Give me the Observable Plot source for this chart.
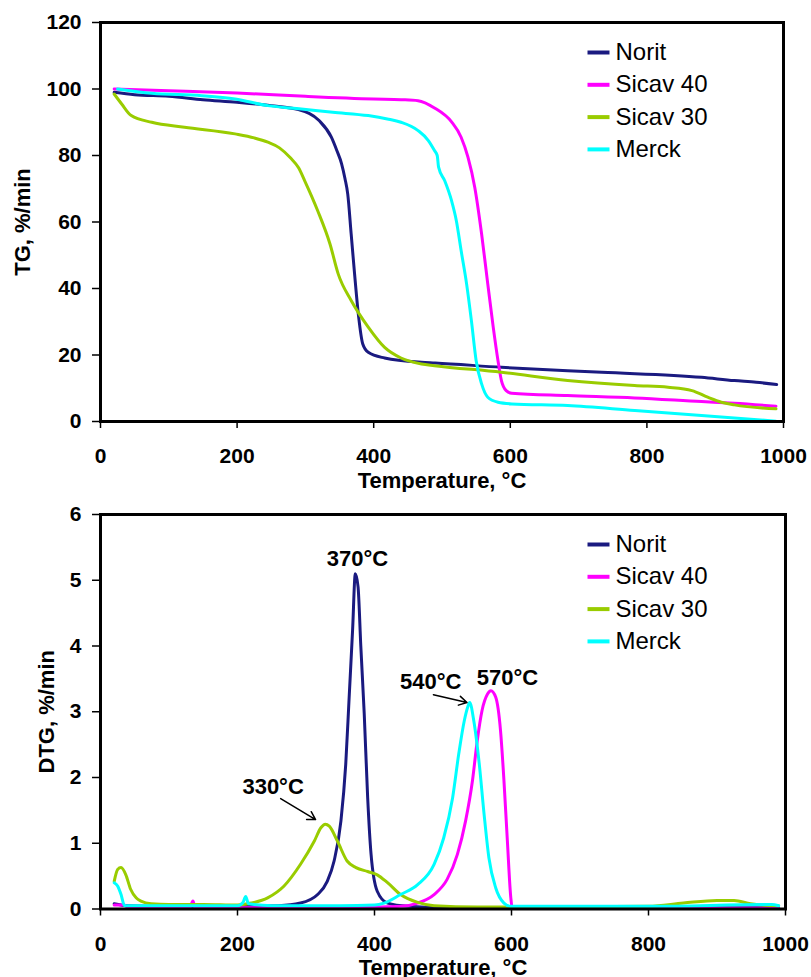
<!DOCTYPE html>
<html><head><meta charset="utf-8">
<script src="https://cdn.jsdelivr.net/npm/d3@7"></script>
<script src="https://cdn.jsdelivr.net/npm/@observablehq/plot@0.6"></script>
<style>
body{margin:0;background:#fff}
#chart svg{display:block}
#chart svg [aria-label$="tick label"] text{font-weight:bold}
</style>
</head><body><div id="chart"></div>
<script>
const FONT = "'Liberation Sans', Arial, sans-serif";
const seriesNames = ["Norit", "Sicav 40", "Sicav 30", "Merck"];
const seriesColors = ["#1a1a80", "#ff00ff", "#99cc00", "#00ffff"];
const xTicks = [0, 200, 400, 600, 800, 1000];
const tgTicks = [0, 20, 40, 60, 80, 100, 120];
const dtgTicks = [0, 1, 2, 3, 4, 5, 6];
const xTitle = "Temperature, °C";
const tgTitle = "TG, %/min";
const dtgTitle = "DTG, %/min";

// ---- TG (top) ----
const noritTG_T = [20, 50, 100, 150, 200, 250, 290, 320, 338, 346, 353, 358, 362, 367, 372, 378, 384, 392, 416, 470, 490, 587, 734, 880, 928, 960, 990];
const noritTG   = [99, 98.3, 97.8, 96.8, 96, 95, 93.8, 90.5, 85.5, 81.5, 77.5, 73, 68.4, 56.4, 44.4, 31.4, 23.3, 20.8, 19.1, 17.8, 17.6, 16.3, 14.8, 13.3, 12.3, 11.8, 11.1];
const sicav40TG_T = [20, 100, 200, 300, 400, 440, 465, 489, 514, 528, 538, 548, 558, 567, 575, 582, 587, 594, 602, 684, 782, 880, 928, 989];
const sicav40TG   = [100, 99.5, 98.8, 97.8, 97, 96.8, 96.5, 94.3, 90.1, 85.5, 79.5, 70.4, 56.4, 41.4, 28.4, 18.3, 12.3, 9.3, 8.5, 7.8, 7.1, 6, 5.5, 4.6];
const sicav30TG_T = [20, 31, 45, 75, 123, 197, 225, 245, 262, 278, 290, 299, 318, 336, 348, 367, 392, 416, 440, 470, 489, 587, 684, 782, 831, 866, 889, 909, 928, 989];
const sicav30TG   = [98.5, 95.5, 92, 90, 88.5, 86.5, 85.3, 84, 82.3, 79.3, 76.3, 72.4, 63.4, 53.4, 44.4, 36.4, 28.4, 22.3, 19.1, 17.3, 16.8, 14.8, 12.3, 10.8, 10.3, 9.3, 7.3, 5.8, 5, 3.8];
const merckTG_T = [25, 75, 148, 197, 245, 294, 340, 392, 420, 440, 465, 480, 489, 493, 495, 504, 514, 521, 528, 536, 543, 550, 558, 567, 582, 602, 684, 782, 880, 989];
const merckTG   = [100, 98.7, 98, 97, 95, 94, 93, 92, 91, 90, 87.5, 84.5, 81.5, 80, 76.5, 72.4, 66.4, 60.4, 51.4, 41.4, 30.4, 18.3, 11.3, 7.3, 5.8, 5.3, 4.8, 3.3, 1.8, 0.1];

// ---- DTG (bottom) ----
const noritDTG_T = [20, 40, 100, 200, 260, 292, 317, 331, 341, 351, 358, 363, 368, 372, 376, 380, 385, 390, 395, 404, 419, 450, 500, 600, 990];
const noritDTG   = [0.08, 0.05, 0.04, 0.04, 0.05, 0.09, 0.22, 0.42, 0.73, 1.34, 2.2, 3.22, 4.24, 5.1, 4.9, 4.0, 2.97, 1.7, 0.83, 0.27, 0.09, 0.04, 0.02, 0.02, 0.02];
const sicav40DTG_T = [20, 35, 40, 130, 135, 138, 200, 300, 400, 438, 463, 487, 506, 521, 533, 543, 550, 557, 565, 570, 577, 584, 589, 594, 599, 601, 990];
const sicav40DTG   = [0.06, 0.06, 0.02, 0.02, 0.12, 0.02, 0.02, 0.02, 0.03, 0.04, 0.09, 0.22, 0.45, 0.83, 1.34, 1.95, 2.56, 3.02, 3.27, 3.32, 3.22, 2.71, 1.95, 1.03, 0.17, 0.02, 0.01];
const sicav30DTG_T = [20, 25, 30, 37, 44, 52, 59, 74, 100, 150, 200, 220, 244, 268, 292, 312, 322, 328, 334, 346, 360, 373, 390, 404, 419, 438, 463, 487, 550, 600, 800, 851, 900, 925, 949, 990];
const sicav30DTG   = [0.42, 0.6, 0.63, 0.52, 0.3, 0.17, 0.12, 0.08, 0.07, 0.07, 0.06, 0.09, 0.17, 0.35, 0.68, 1.03, 1.24, 1.29, 1.26, 1.03, 0.73, 0.63, 0.57, 0.52, 0.4, 0.22, 0.1, 0.05, 0.03, 0.03, 0.04, 0.09, 0.13, 0.13, 0.08, 0.05];
const merckDTG_T = [20, 25, 30, 35, 100, 200, 208, 212, 216, 250, 350, 400, 414, 438, 463, 487, 501, 514, 523, 531, 536, 539, 545, 553, 560, 567, 577, 589, 599, 800, 980, 990];
const merckDTG   = [0.4, 0.35, 0.22, 0.05, 0.05, 0.05, 0.1, 0.19, 0.08, 0.05, 0.05, 0.06, 0.09, 0.22, 0.37, 0.68, 1.08, 1.69, 2.36, 2.86, 3.07, 3.14, 2.86, 2.2, 1.44, 0.78, 0.32, 0.09, 0.04, 0.04, 0.07, 0.05];

// ---- annotations (bottom) ----
const peakLabels = ["370°C", "330°C", "540°C", "570°C"];
const peakLabelT = [375, 252, 482, 594];
const peakLabelV = [5.33, 1.85, 3.45, 3.52];
const arrowFromT = [263, 486];
const arrowFromV = [1.68, 3.26];
const arrowToT = [314, 535];
const arrowToV = [1.36, 3.14];

function rowsOf(list) {
  const rows = [];
  list.forEach(([name, T, V]) => T.forEach((t, i) => rows.push({series: name, T: t, v: V[i]})));
  return rows;
}
const tgRows = rowsOf([
  ["Norit", noritTG_T, noritTG], ["Sicav 40", sicav40TG_T, sicav40TG],
  ["Sicav 30", sicav30TG_T, sicav30TG], ["Merck", merckTG_T, merckTG]]);
const dtgRows = rowsOf([
  ["Norit", noritDTG_T, noritDTG], ["Sicav 40", sicav40DTG_T, sicav40DTG],
  ["Sicav 30", sicav30DTG_T, sicav30DTG], ["Merck", merckDTG_T, merckDTG]]);
const labelRows = peakLabels.map((t, i) => ({text: t, T: peakLabelT[i], v: peakLabelV[i]}));
const arrowRows = arrowFromT.map((t, i) => ({x1: t, y1: arrowFromV[i], x2: arrowToT[i], y2: arrowToV[i]}));

const dashSymbol = {draw(ctx, size) { const w = Math.sqrt(size / Math.PI); ctx.moveTo(-w, 0); ctx.lineTo(w, 0); }};

function legendMarks() {
  return seriesNames.flatMap((name, i) => [
    Plot.dot([name], {frameAnchor: "top-left", dx: 498, dy: 30 + 32.3 * i, symbol: dashSymbol, r: 11, fill: "none", stroke: seriesColors[i], strokeWidth: 4}),
    Plot.text([name], {frameAnchor: "top-left", dx: 515, dy: 30 + 32.3 * i, text: d => d, textAnchor: "start", lineAnchor: "middle", fontSize: 24, fill: "black"})
  ]);
}

function panel({rows, yDomain, yTicks, yTitle, yTitleDx, height, marginBottom, marginRight, extra}) {
  return Plot.plot({
    width: 811, height, marginLeft: 100, marginRight, marginTop: 22, marginBottom,
    style: {fontFamily: FONT, background: "white", color: "black"},
    x: {domain: [0, 1000]},
    y: {domain: yDomain},
    color: {domain: seriesNames, range: seriesColors},
    marks: [
      Plot.axisX({ticks: xTicks, tickFormat: "d", tickSize: 7, tickPadding: 20, fontSize: 21, fontWeight: "bold", strokeWidth: 1.5, label: null}),
      Plot.axisY({ticks: yTicks, tickFormat: "d", tickSize: 8, tickPadding: 11, fontSize: 21, fontWeight: "bold", strokeWidth: 1.5, label: null}),
      Plot.line(rows, {x: "T", y: "v", z: "series", stroke: "series", strokeWidth: 3, strokeLinejoin: "round", curve: "monotone-x"}),
      Plot.frame({stroke: "black", strokeWidth: 3}),
      Plot.text([yTitle], {frameAnchor: "left", dx: yTitleDx, rotate: -90, text: d => d, textAnchor: "middle", lineAnchor: "middle", fontSize: 22, fontWeight: "bold", fill: "black"}),
      Plot.text([xTitle], {frameAnchor: "bottom", dy: 59, text: d => d, textAnchor: "middle", lineAnchor: "middle", fontSize: 22, fontWeight: "bold", fill: "black"}),
      ...legendMarks(),
      ...(extra || [])
    ]
  });
}

const tgChart = panel({rows: tgRows, yDomain: [0, 120], yTicks: tgTicks, yTitle: tgTitle, yTitleDx: -78, height: 492, marginBottom: 71, marginRight: 28});
const dtgChart = panel({rows: dtgRows, yDomain: [0, 6], yTicks: dtgTicks, yTitle: dtgTitle, yTitleDx: -54, height: 485, marginBottom: 68.5, marginRight: 26,
  extra: [
    Plot.text(labelRows, {x: "T", y: "v", text: "text", fontSize: 22, fontWeight: "bold", fill: "black"}),
    Plot.arrow(arrowRows, {x1: "x1", y1: "y1", x2: "x2", y2: "y2", stroke: "black", strokeWidth: 1.5, headLength: 9})
  ]});
document.getElementById("chart").append(tgChart, dtgChart);
</script>
</body></html>
